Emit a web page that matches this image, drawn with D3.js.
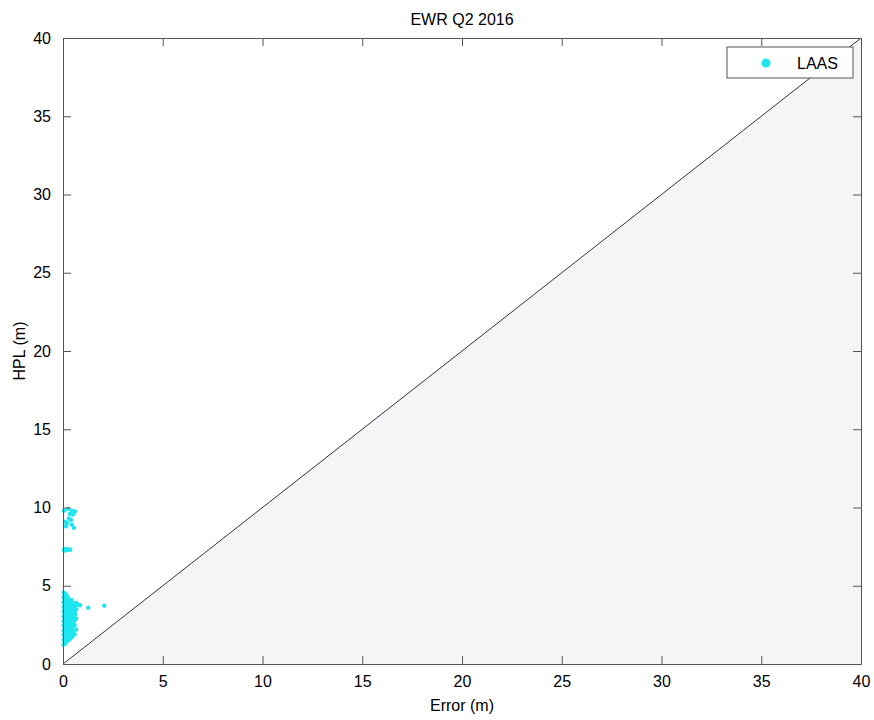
<!DOCTYPE html>
<html>
<head>
<meta charset="utf-8">
<script src="https://cdn.jsdelivr.net/npm/d3@7"></script>
<style>
  body { margin: 0; background: #fff; }
  text { font-family: "Liberation Sans", Arial, sans-serif; fill: #000; }
</style>
</head>
<body>
<svg id="chart" width="874" height="720"></svg>
<script>
const title = 'EWR Q2 2016';
const xLabel = 'Error (m)';
const yLabel = 'HPL (m)';
const seriesName = 'LAAS';
const xTicks = [0, 5, 10, 15, 20, 25, 30, 35, 40];
const yTicks = [0, 5, 10, 15, 20, 25, 30, 35, 40];

// error (m) / HPL (m) pairs
const laasError = [
  0.03,0.03,0.03,0.03,0.03,0.03,0.03,0.03,0.03,0.03,0.03,0.03,
  0.10,0.10,0.10,0.10,0.10,0.10,0.10,0.10,0.10,0.10,0.10,0.10,
  0.18,0.18,0.18,0.18,0.18,0.18,0.18,0.18,0.18,0.18,0.18,
  0.26,0.26,0.26,0.26,0.26,0.26,0.26,0.26,0.26,0.26,
  0.34,0.34,0.34,0.34,0.34,0.34,0.34,0.34,0.34,
  0.42,0.42,0.42,0.42,0.42,0.42,0.42,0.42,0.42,
  0.50,0.50,0.50,0.50,0.50,0.50,0.50,0.50,
  0.58,0.58,0.58,0.58,0.58,0.58,
  0.66,0.66,0.66,0.66,
  0.62,0.55,0.72,0.85,1.27,2.07,
  0.05,0.12,0.20,0.28,0.36,0.10,
  0.25,0.45,0.60,0.35,0.50,0.30,0.40,0.20,0.45,0.10,0.55,0.15,0.05
];
const laasHpl = [
  1.25,1.55,1.85,2.15,2.45,2.75,3.05,3.35,3.65,3.95,4.25,4.55,
  1.3,1.6,1.9,2.2,2.5,2.8,3.1,3.4,3.7,4.0,4.3,4.5,
  1.45,1.75,2.05,2.35,2.65,2.95,3.25,3.55,3.85,4.15,4.4,
  1.5,1.8,2.1,2.4,2.7,3.0,3.3,3.6,3.9,4.2,
  1.6,1.9,2.2,2.5,2.8,3.1,3.4,3.7,4.0,
  1.7,2.0,2.35,2.6,2.9,3.2,3.5,3.8,4.1,
  1.8,2.1,2.4,2.7,3.0,3.3,3.6,3.9,
  1.9,2.5,2.8,3.1,3.4,3.7,
  2.2,2.9,3.5,3.9,
  3.2,2.5,3.8,3.75,3.6,3.73,
  7.3,7.35,7.3,7.32,7.3,7.25,
  9.9,9.8,9.75,9.6,9.55,9.3,9.2,9.0,8.9,9.1,8.7,8.8,9.8
];

const margin = { left: 63, right: 13, top: 38, bottom: 56 };
const width = 874, height = 720;
const svg = d3.select('#chart');

const x = d3.scaleLinear().domain([0, 40]).range([margin.left, width - margin.right]);
const y = d3.scaleLinear().domain([0, 40]).range([height - margin.bottom, margin.top]);

// shaded region under the 1:1 line
svg.append('path')
  .attr('d', d3.line()([[x(0), y(0)], [x(40), y(0)], [x(40), y(40)]]) + 'Z')
  .attr('fill', '#f5f5f7');

svg.append('line')
  .attr('x1', x(0)).attr('y1', y(0)).attr('x2', x(40)).attr('y2', y(40))
  .attr('stroke', '#000').attr('stroke-width', 0.8);

const pts = laasError.map((e, i) => [e, laasHpl[i]]);
svg.append('g').selectAll('circle').data(pts).enter().append('circle')
  .attr('cx', d => x(d[0]))
  .attr('cy', d => y(d[1]))
  .attr('r', 2.2)
  .attr('fill', '#1ee6f0');

// axes, ticks inward on all four sides
const tickLen = 8;
function styleAxis(g) {
  g.select('.domain').attr('stroke', '#555');
  g.selectAll('.tick line').attr('stroke', '#555');
  g.selectAll('.tick text').style('font-size', '16px').attr('fill', '#000');
}
svg.append('g').attr('transform', `translate(0,${y(0)})`)
  .call(d3.axisBottom(x).tickValues(xTicks).tickSize(-tickLen).tickSizeOuter(0).tickPadding(12))
  .call(styleAxis);
svg.append('g').attr('transform', `translate(0,${y(40)})`)
  .call(d3.axisTop(x).tickValues(xTicks).tickSize(-tickLen).tickSizeOuter(0).tickFormat(''))
  .call(styleAxis);
svg.append('g').attr('transform', `translate(${x(0)},0)`)
  .call(d3.axisLeft(y).tickValues(yTicks).tickSize(-tickLen).tickSizeOuter(0).tickPadding(12))
  .call(styleAxis);
svg.append('g').attr('transform', `translate(${x(40)},0)`)
  .call(d3.axisRight(y).tickValues(yTicks).tickSize(-tickLen).tickSizeOuter(0).tickFormat(''))
  .call(styleAxis);

svg.append('text').attr('x', (x(0) + x(40)) / 2).attr('y', 25)
  .attr('text-anchor', 'middle').style('font-size', '16px').text(title);
svg.append('text').attr('x', (x(0) + x(40)) / 2).attr('y', 711)
  .attr('text-anchor', 'middle').style('font-size', '16px').text(xLabel);
svg.append('text').attr('transform', `translate(25,${(y(0) + y(40)) / 2}) rotate(-90)`)
  .attr('text-anchor', 'middle').style('font-size', '16px').text(yLabel);

// legend
const leg = svg.append('g').attr('transform', 'translate(727,47)');
leg.append('rect').attr('width', 126).attr('height', 31)
  .attr('fill', '#fff').attr('stroke', '#555').attr('stroke-width', 1);
leg.append('circle').attr('cx', 39).attr('cy', 16).attr('r', 4.5).attr('fill', '#1ee6f0');
leg.append('text').attr('x', 70).attr('y', 22).style('font-size', '16px').text(seriesName);
</script>
</body>
</html>
